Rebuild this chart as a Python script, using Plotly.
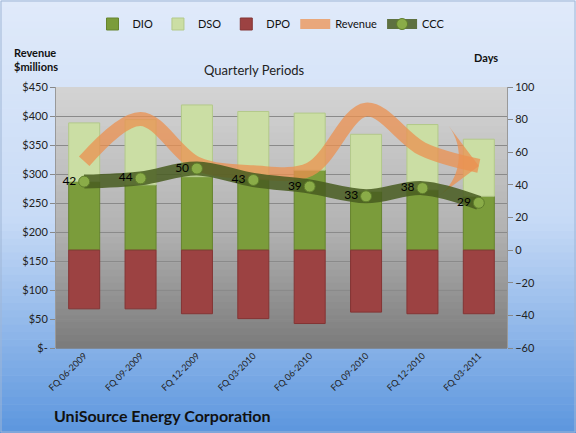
import plotly.graph_objects as go

# quarterly periods
quarters = ["FQ 06-2009", "FQ 09-2009", "FQ 12-2009", "FQ 03-2010",
            "FQ 06-2010", "FQ 09-2010", "FQ 12-2010", "FQ 03-2011"]

# days (right axis)
dio = [42, 40, 45, 44, 49, 36, 37, 33]
dso = [36, 40, 44, 41, 35, 35, 40, 35]
dpo = [-36, -36, -39, -42, -45, -38, -39, -39]
ccc = [42, 44, 50, 43, 39, 33, 38, 29]

# revenue, $ millions (left axis)
revenue = [322, 395, 318, 303, 308, 411, 343, 314]

rev_ticks = [0, 50, 100, 150, 200, 250, 300, 350, 400, 450]
rev_ticktext = ["$-", "$50", "$100", "$150", "$200", "$250", "$300", "$350", "$400", "$450"]
day_ticks = [-60, -40, -20, 0, 20, 40, 60, 80, 100]

W, H = 576, 433
PL, PR, PT, PB = 56, 507, 87, 348


def xp(px):
    return (px - PL) / (PR - PL)


def yp(py):
    return (PB - py) / (PB - PT)


def lerp_color(stops, t):
    for (t0, c0), (t1, c1) in zip(stops, stops[1:]):
        if t0 <= t <= t1:
            f = (t - t0) / (t1 - t0) if t1 > t0 else 0
            r, g, b = (round(a + (b_ - a) * f) for a, b_ in zip(c0, c1))
            return f"rgb({r},{g},{b})"
    r, g, b = stops[-1][1]
    return f"rgb({r},{g},{b})"


shapes = []

# page gradient (light blue -> mid blue)
page_stops = [(0.0, (224, 234, 250)), (0.5, (200, 219, 246)), (1.0, (92, 150, 222))]
n = 60
for i in range(n):
    y0 = H * i / n
    y1 = H * (i + 1) / n + 0.6
    shapes.append(dict(type="rect", xref="paper", yref="paper", layer="below",
                       x0=xp(0), x1=xp(W), y0=yp(y1), y1=yp(y0),
                       fillcolor=lerp_color(page_stops, (i + 0.5) / n), line_width=0))

# plot area gradient (light grey -> dark grey)
plot_stops = [(0.0, (212, 212, 212)), (0.55, (178, 178, 178)), (1.0, (122, 122, 122))]
n = 40
for i in range(n):
    shapes.append(dict(type="rect", xref="paper", yref="paper", layer="below",
                       x0=0, x1=1, y0=1 - (i + 1) / n - 0.003, y1=1 - i / n,
                       fillcolor=lerp_color(plot_stops, (i + 0.5) / n), line_width=0))

# outer border
shapes.append(dict(type="rect", xref="paper", yref="paper", layer="below",
                   x0=xp(1), x1=xp(W - 1), y0=yp(H - 1), y1=yp(1),
                   line=dict(color="#9fb6d6", width=1), fillcolor="rgba(0,0,0,0)"))

fig = go.Figure()

fig.add_trace(go.Bar(x=quarters, y=dio, name="DIO", yaxis="y",
                     marker=dict(color="#7b9c3b", line=dict(color="#66842e", width=1))))
fig.add_trace(go.Bar(x=quarters, y=dso, name="DSO", yaxis="y",
                     marker=dict(color="#cbdea4", line=dict(color="#b3c98a", width=1))))
fig.add_trace(go.Bar(x=quarters, y=dpo, name="DPO", yaxis="y",
                     marker=dict(color="#9c4242", line=dict(color="#843434", width=1))))

fig.add_trace(go.Scatter(
    x=quarters, y=revenue, name="Revenue", yaxis="y2",
    mode="lines",
    line=dict(color="#ec9150", width=14, shape="spline", smoothing=1.0),
    opacity=0.75,
    hoverinfo="x+y",
))
# arrow head on the last revenue point (tip sits on the point)
fig.add_trace(go.Scatter(
    x=quarters[-1:], y=revenue[-1:], yaxis="y2", showlegend=False,
    mode="markers",
    marker=dict(symbol="arrow-wide", size=50, color="#ec9150", angle=98,
                line=dict(width=0)),
    opacity=0.75,
    hoverinfo="skip",
))

fig.add_trace(go.Scatter(
    x=quarters, y=ccc, name="CCC", yaxis="y3",
    mode="lines+markers+text",
    line=dict(color="rgba(72,92,32,0.85)", width=14, shape="spline", smoothing=1.0),
    marker=dict(size=11, color="#8aac48", line=dict(color="#5f7d2c", width=1)),
    text=[str(v) for v in ccc],
    textposition="middle left",
    textfont=dict(size=12, color="#000"),
))

font = "Lato, 'Open Sans', sans-serif"

fig.update_layout(
    width=W, height=H,
    margin=dict(l=PL, r=W - PR, t=PT, b=H - PB, autoexpand=False),
    paper_bgcolor="#dfe9f9",
    plot_bgcolor="rgba(0,0,0,0)",
    barmode="relative",
    bargap=0.45,
    font=dict(family=font, size=11, color="#222"),
    shapes=shapes,
    showlegend=True,
    legend=dict(orientation="h", x=xp(271), xanchor="center", y=yp(24), yanchor="middle",
                bgcolor="rgba(0,0,0,0)", font=dict(size=11, color="#111"),
                itemwidth=30, tracegroupgap=0),
    xaxis=dict(type="category", range=[-0.5, len(quarters) - 0.5], tickangle=-45,
               tickfont=dict(size=9, color="#222"),
               showgrid=False, showline=False, ticks="", ticklen=0),
    yaxis=dict(side="right", range=[-60, 100], tickvals=day_ticks, showgrid=False,
               zeroline=False, ticks="outside", ticklen=5, tickcolor="#888",
               showline=True, linecolor="#999", tickfont=dict(size=11, color="#222")),
    yaxis2=dict(overlaying="y", side="left", range=[0, 450], tickvals=rev_ticks,
                ticktext=rev_ticktext, showgrid=True, gridcolor="#8a8a8a", gridwidth=1,
                zeroline=False, ticks="outside", ticklen=5, tickcolor="#888",
                showline=True, linecolor="#999", tickfont=dict(size=11, color="#222")),
    yaxis3=dict(overlaying="y", range=[-60, 100], visible=False),
    annotations=[
        dict(text="<b>Revenue<br>$millions</b>", xref="paper", yref="paper",
             x=xp(36), y=yp(59), showarrow=False, align="left",
             xanchor="center", yanchor="middle", font=dict(size=11, color="#111")),
        dict(text="<b>Days</b>", xref="paper", yref="paper", x=xp(486), y=yp(58),
             xanchor="center", yanchor="middle", showarrow=False,
             font=dict(size=11, color="#111")),
        dict(text="Quarterly Periods", xref="paper", yref="paper", x=xp(254), y=yp(70),
             xanchor="center", yanchor="middle", showarrow=False,
             font=dict(size=13, color="#222")),
        dict(text="<b>UniSource Energy Corporation</b>", xref="paper", yref="paper",
             x=xp(52), y=yp(415), xanchor="left", yanchor="middle", showarrow=False,
             font=dict(size=16, color="#111")),
    ],
)

# the page's default body margin would shift the figure by 8px
fig.write_html("out.html", config={"displayModeBar": False},
               post_script="document.body.style.margin = '0';")
